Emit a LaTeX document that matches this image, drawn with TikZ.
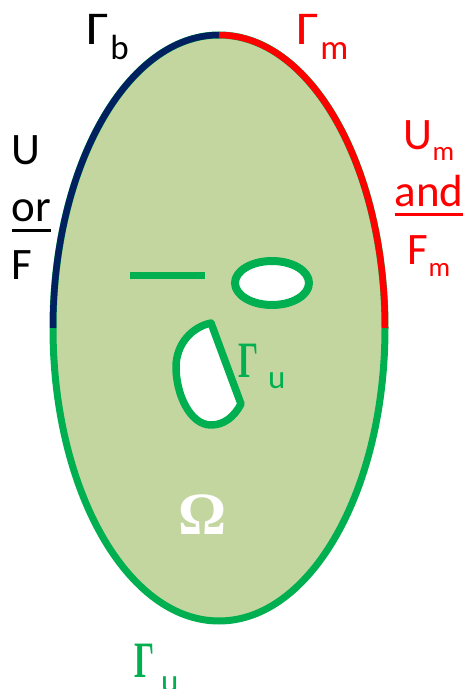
\documentclass[tikz,border=0pt]{standalone}
\usepackage{fontspec}
\setmainfont{Carlito}
\newfontfamily\sergr{Liberation Serif}
\usepackage{graphicx}
\definecolor{domfill}{HTML}{C4D69F}
\definecolor{ugreen}{HTML}{00B050}
\definecolor{bblue}{HTML}{002060}
\definecolor{mred}{HTML}{FF0000}
\newcommand\mysub[3]{\raisebox{-#1pt}{\fontsize{#2}{#2}\selectfont #3}}
\newcommand\myul[3]{\vtop{\hbox{#3}\kern#1pt\hrule height #2pt}}
\newcommand\bigG{\fontsize{47}{47}\selectfont\scalebox{1.15}[1]{Γ}}
\newcommand\serG{{\sergr\bfseries\fontsize{51}{51}\selectfont\scalebox{0.62}[1]{Γ}}}
\begin{document}
\begin{tikzpicture}[x=1pt,y=1pt,
  lbl/.style={inner sep=0pt, outer sep=0pt, anchor=base west, font=\fontsize{45}{45}\selectfont},
  clbl/.style={inner sep=0pt, outer sep=0pt, anchor=base, font=\fontsize{45}{45}\selectfont},
  holeline/.style={draw=ugreen, line width=7.5pt, line join=round},
  rim/.style={line width=6.5pt}]
\useasboundingbox (0,0) rectangle (466,689);
% domain
\fill[domfill] (219,361) ellipse [x radius=166pt, y radius=293pt];
\draw[ugreen, line width=7pt] (219,361) ellipse [x radius=166pt, y radius=293pt];
\draw[bblue, rim] (53,361) arc [start angle=180, end angle=90, x radius=166pt, y radius=293pt];
\draw[mred, rim] (219,654) arc [start angle=90, end angle=0, x radius=166pt, y radius=293pt];
% crack
\draw[ugreen, line width=7pt] (130,413) -- (205,413);
% small elliptic hole
\draw[holeline, line width=8pt, fill=white] (272,406) ellipse [x radius=37pt, y radius=22pt];
% D-shaped hole
\draw[holeline, fill=white] (211,366) -- (241,285)
  .. controls (234,272) and (224,264) .. (211,264)
  .. controls (190,264) and (176,295) .. (176,322)
  .. controls (176,345) and (192,362) .. (211,366) -- cycle;
% labels
\node[lbl] (gb) at (86,644) {\bigG\hspace{2pt}\mysub{15}{35}{b}};
\node[lbl, text=mred] (gm) at (296,644) {\bigG\hspace{2pt}\mysub{15}{35}{m}};
\node[lbl] (lu) at (12,524) {U};
\node[lbl] (lor) at (12,467) {\myul{6.5}{3}{or}};
\node[lbl] (lf) at (12,409) {F};
\node[clbl, text=mred] (ru) at (429,539) {U\mysub{11}{27}{m}};
\node[clbl, text=mred] (rand) at (429,482) {\myul{5.3}{3.5}{and}};
\node[clbl, text=mred] (rf) at (429,424) {F\mysub{12}{27}{m}};
\node[lbl, text=ugreen] (gu1) at (238,311) {\serG\hspace{10pt}\mysub{11}{33}{u}};
\node[lbl, text=ugreen] (gu2) at (134,12) {\serG\hspace{7pt}\mysub{15}{33}{u}};
\node[clbl, text=white, font=\sergr\bfseries\fontsize{60}{60}\selectfont] (om) at (203,154) {Ω};
\end{tikzpicture}
\end{document}
